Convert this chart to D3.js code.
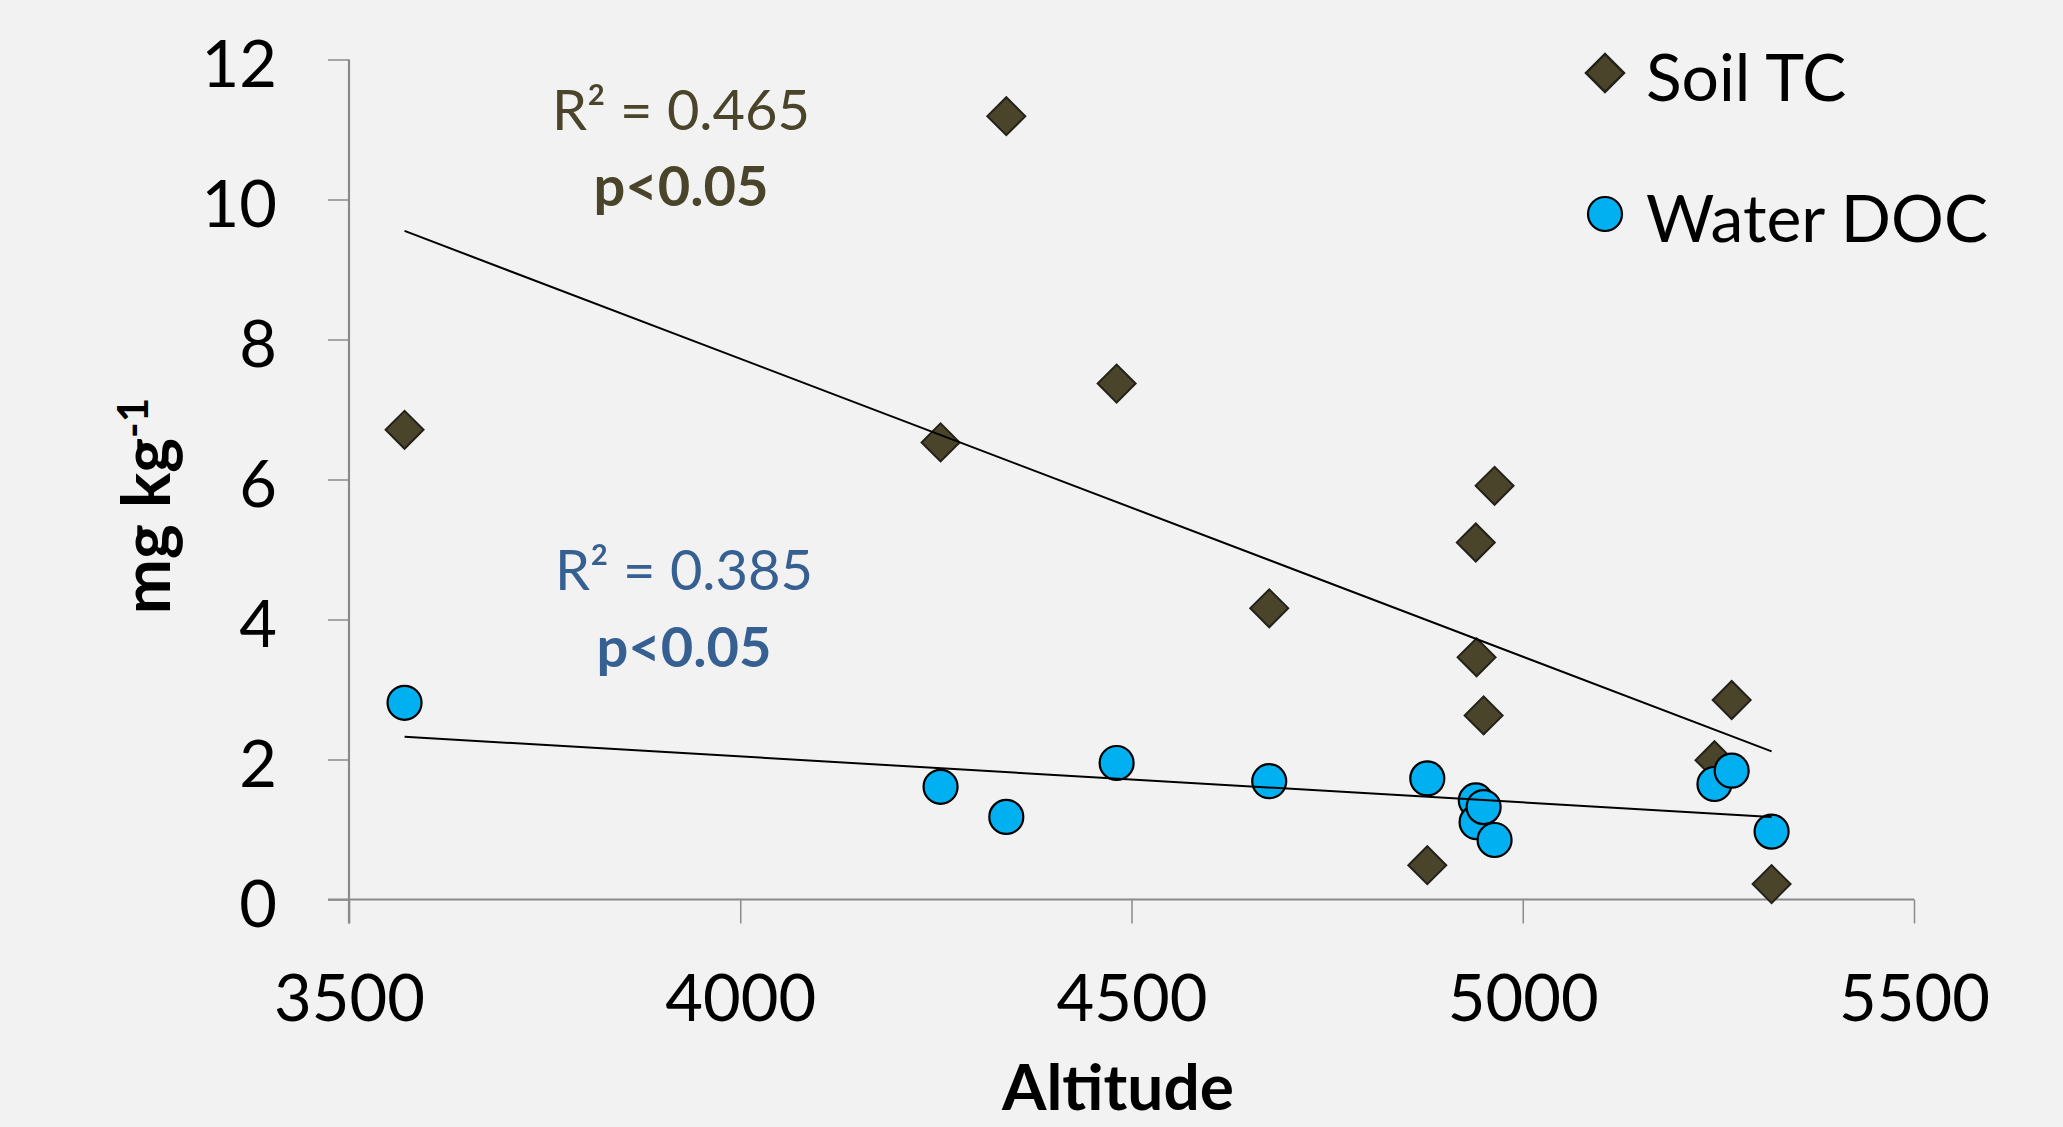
<!DOCTYPE html>
<html><head><meta charset="utf-8">
<script src="https://cdn.jsdelivr.net/npm/d3@7"></script>
<style>
html,body{margin:0;padding:0;background:#f2f2f2;}
svg{display:block;font-family:Lato,"Open Sans",sans-serif;}
</style>
</head><body>
<svg id="chart" width="2063" height="1127"></svg>
<script>
// ---- data ----
const altitude = [3571, 4256, 4340, 4481, 4676, 4878, 4940, 4941, 4950, 4964, 5245, 5267, 5318];
const soilTC   = [6.71, 6.53, 11.19, 7.37, 4.16, 0.49, 5.10, 3.46, 2.63, 5.91, 1.99, 2.85, 0.22];
const waterDOC = [2.81, 1.61, 1.18, 1.95, 1.69, 1.73, 1.415, 1.105, 1.32, 0.85, 1.65, 1.84, 0.97];
const xTicks = [3500, 4000, 4500, 5000, 5500];
const yTicks = [0, 2, 4, 6, 8, 10, 12];
const seriesNames = ["Soil TC", "Water DOC"];
const r2Labels = ["R\u00B2 = 0.465", "R\u00B2 = 0.385"];
const pLabels = ["p<0.05", "p<0.05"];
const xTitle = "Altitude";

// ---- layout ----
const svg = d3.select("#chart");
const x = d3.scaleLinear().domain([3500, 5500]).range([349, 1914]);
const y = d3.scaleLinear().domain([0, 12]).range([899.5, 59.5]);
const axisColor = "#8a8a8a";
const soilFill = "#4a452a", soilStroke = "#24211a";
const waterFill = "#00b0f0";
const soilText = "#4a452a", waterText = "#376092";

// axes
const gy = svg.append("g").attr("transform", `translate(${x(3500)},0)`)
  .call(d3.axisLeft(y).tickValues(yTicks).tickSize(21).tickSizeOuter(0).tickPadding(51));
const gx = svg.append("g").attr("transform", `translate(0,${y(0)})`)
  .call(d3.axisBottom(x).tickValues(xTicks).tickSize(24).tickSizeOuter(0).tickFormat(d3.format("d")));
[gy, gx].forEach(g => {
  g.select(".domain").remove();
  g.selectAll(".tick line").attr("stroke", axisColor).attr("stroke-width", 1.5);
  g.selectAll(".tick text").attr("fill", "#000").style("font-size", "65px")
    .style("font-family", "Lato,'Open Sans',sans-serif");
});
gy.selectAll(".tick text").attr("dy", "0.41em");
gx.selectAll(".tick text").attr("y", 121).attr("dy", 0);
svg.append("line").attr("x1", x(3500)).attr("x2", x(3500)).attr("y1", y(12)).attr("y2", y(0) + 24)
  .attr("stroke", axisColor).attr("stroke-width", 2.2);
svg.append("line").attr("x1", x(3500) - 21).attr("x2", x(5500)).attr("y1", y(0)).attr("y2", y(0))
  .attr("stroke", axisColor).attr("stroke-width", 2.2);

// axis titles
svg.append("text").attr("x", 1118).attr("y", 1110).attr("text-anchor", "middle")
  .style("font-size", "64px").style("font-weight", "bold").text(xTitle);
const yt = svg.append("text").attr("transform", "translate(170,506) rotate(-90)")
  .attr("text-anchor", "middle").style("font-size", "66px").style("font-weight", "bold");
yt.append("tspan").text("mg kg");
yt.append("tspan").attr("dy", -22).style("font-size", "42px").text("-1");

// markers
const diamond = d3.symbol().type(d3.symbolSquare).size(720);
const pts = altitude.map((a, i) => ({a, s: soilTC[i], w: waterDOC[i]}));
svg.append("g").selectAll("path").data(pts).join("path")
  .attr("d", diamond)
  .attr("transform", d => `translate(${x(d.a)},${y(d.s)}) rotate(45)`)
  .attr("fill", soilFill).attr("stroke", soilStroke).attr("stroke-width", 2);
svg.append("g").selectAll("circle").data(pts).join("circle")
  .attr("cx", d => x(d.a)).attr("cy", d => y(d.w)).attr("r", 17)
  .attr("fill", waterFill).attr("stroke", "#000").attr("stroke-width", 2.2);

// trendlines (least squares from data)
function fit(xs, ys) {
  const mx = d3.mean(xs), my = d3.mean(ys);
  const sxy = d3.sum(xs, (v, i) => (v - mx) * (ys[i] - my));
  const sxx = d3.sum(xs, v => (v - mx) * (v - mx));
  const b = sxy / sxx;
  return v => my + b * (v - mx);
}
const ext = d3.extent(altitude);
[soilTC, waterDOC].forEach(ser => {
  const f = fit(altitude, ser);
  svg.append("line").attr("x1", x(ext[0])).attr("y1", y(f(ext[0])))
    .attr("x2", x(ext[1])).attr("y2", y(f(ext[1])))
    .attr("stroke", "#000").attr("stroke-width", 2);
});

// annotations
const ann = [
  {r: r2Labels[0], p: pLabels[0], c: soilText, cx: 681, ry: 130, py: 206},
  {r: r2Labels[1], p: pLabels[1], c: waterText, cx: 684, ry: 590, py: 667}
];
ann.forEach(d => {
  svg.append("text").attr("x", d.cx).attr("y", d.ry).attr("text-anchor", "middle")
    .attr("fill", d.c).style("font-size", "56px").text(d.r);
  svg.append("text").attr("x", d.cx).attr("y", d.py).attr("text-anchor", "middle")
    .attr("fill", d.c).style("font-size", "56px").style("font-weight", "bold").text(d.p);
});

// legend
const lg = svg.append("g");
lg.append("path").attr("d", diamond).attr("transform", "translate(1605,73) rotate(45)")
  .attr("fill", soilFill).attr("stroke", soilStroke).attr("stroke-width", 2.5);
lg.append("circle").attr("cx", 1605).attr("cy", 214).attr("r", 17)
  .attr("fill", waterFill).attr("stroke", "#000").attr("stroke-width", 2.2);
lg.append("text").attr("x", 1646).attr("y", 101).style("font-size", "66px").text(seriesNames[0]);
lg.append("text").attr("x", 1646).attr("y", 242).style("font-size", "66px").text(seriesNames[1]);
</script>
</body></html>
